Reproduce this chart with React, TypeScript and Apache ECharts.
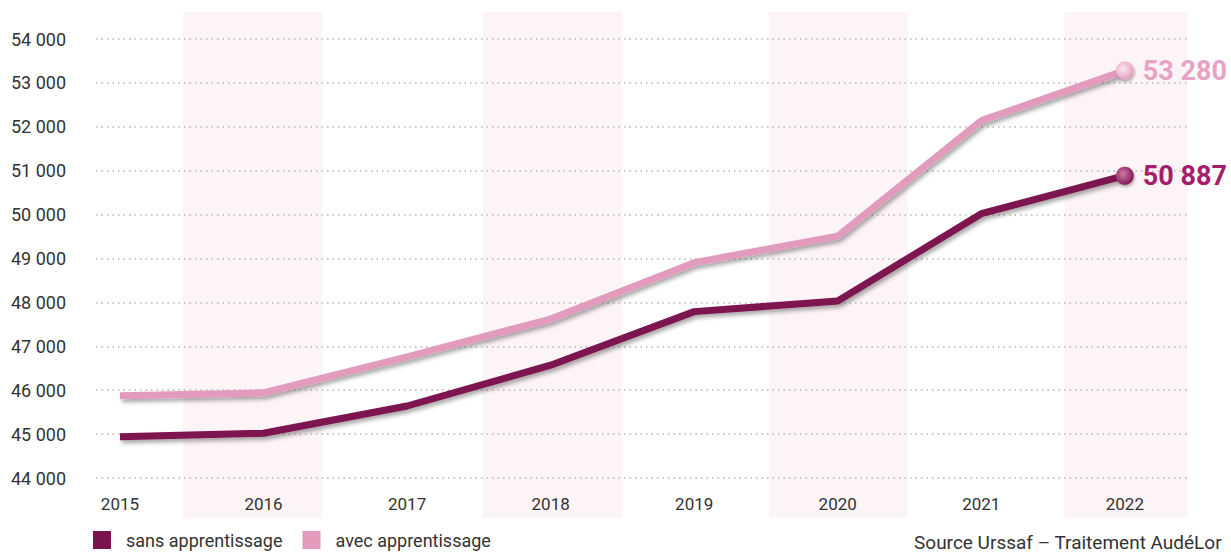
import React, { useEffect, useRef } from "react";
import * as echarts from "echarts";

const years = [2015, 2016, 2017, 2018, 2019, 2020, 2021, 2022];
const sansApprentissage = [44940, 45020, 45640, 46570, 47790, 48030, 50020, 50887];
const avecApprentissage = [45875, 45940, 46760, 47620, 48905, 49510, 52140, 53280];
const yTicks = [44000, 54000];
const bands: [number, number][] = [
  [2015.44, 2016.41],
  [2017.53, 2018.5],
  [2019.52, 2020.49],
  [2021.58, 2022.44],
];
const seriesNames = ["sans apprentissage", "avec apprentissage"];
const sourceText = "Source Urssaf \u2013 Traitement Aud\u00e9Lor";

const DARK = "#7d1250";
const PINK = "#e39bbd";
const FONT = "Roboto";

const fmt = (v: number) => {
  const s = String(Math.round(v));
  return s.replace(/\B(?=(\d{3})+(?!\d))/g, " ");
};

function lineSeries(name: string, vals: number[], color: string, labelColor: string, grad: [string, string]) {
  return {
    name,
    type: "line",
    symbol: "none",
    showSymbol: true,
    z: 3,
    lineStyle: {
      color,
      width: 7,
      shadowColor: "rgba(0,0,0,0.35)",
      shadowBlur: 4,
      shadowOffsetX: 2,
      shadowOffsetY: 3,
    },
    itemStyle: { color },
    data: vals.map((v, i) => {
      const pt: any = { value: [years[i], v] };
      if (i === vals.length - 1) {
        pt.symbol = "circle";
        pt.symbolSize = 18;
        pt.itemStyle = {
          color: new echarts.graphic.RadialGradient(0.4, 0.4, 0.65, [
            { offset: 0, color: grad[0] },
            { offset: 1, color: grad[1] },
          ]),
          shadowColor: "rgba(0,0,0,0.3)",
          shadowBlur: 3,
          shadowOffsetX: 1,
          shadowOffsetY: 2,
        };
        pt.label = {
          show: true,
          position: "right",
          distance: 9,
          formatter: () => fmt(v),
          fontFamily: FONT,
          fontWeight: "bold",
          fontSize: 27,
          color: labelColor,
        };
      }
      return pt;
    }),
  };
}

export default function App() {
  const ref = useRef<HTMLDivElement>(null);
  useEffect(() => {
    document.body.style.margin = "0";
    const chart = echarts.init(ref.current!, undefined, { renderer: "svg" });
    const yMin = yTicks[0];
    const yMax = yTicks[1];
    chart.setOption({
      animation: false,
      backgroundColor: "#ffffff",
      grid: { left: 96, right: 43, top: 39, bottom: 79, containLabel: false },
      xAxis: {
        type: "value",
        min: 2014.833,
        max: 2022.44,
        axisLine: { show: false },
        axisTick: { show: false },
        splitLine: { show: false },
        axisLabel: {
          customValues: years,
          formatter: (v: number) => String(Math.round(v)),
          fontFamily: FONT,
          fontSize: 17,
          color: "#333",
          margin: 17,
        },
      },
      yAxis: {
        type: "value",
        min: yMin,
        max: yMax,
        interval: 1000,
        axisLine: { show: false },
        axisTick: { show: false },
        axisLabel: {
          formatter: (v: number) => fmt(v),
          fontFamily: FONT,
          fontSize: 18,
          color: "#333",
          margin: 30,
        },
        splitLine: {
          lineStyle: { color: "#b5b5b5", width: 1.5, type: [1.5, 4] },
        },
      },
      legend: {
        left: 93,
        top: 530,
        padding: 0,
        itemWidth: 18,
        itemHeight: 18,
        itemGap: 20,
        icon: "rect",
        data: seriesNames,
        textStyle: {
          fontFamily: FONT,
          fontSize: 18,
          lineHeight: 20,
          color: "#333",
          padding: [0, 0, 0, 10],
        },
      },
      series: [
        lineSeries(seriesNames[1], avecApprentissage, PINK, "#e8a2c4", ["#fbe6f0", "#e39bbd"]),
        lineSeries(seriesNames[0], sansApprentissage, DARK, "#a51d6b", ["#d27aa8", "#7d1250"]),
      ],
    });
    const topPx = 12;
    const botPx = 518;
    const rects = bands.map(([a, b]) => {
      const x0 = chart.convertToPixel({ xAxisIndex: 0 }, a) as number;
      const x1 = chart.convertToPixel({ xAxisIndex: 0 }, b) as number;
      return {
        type: "rect",
        z: -10,
        silent: true,
        shape: { x: x0, y: topPx, width: x1 - x0, height: botPx - topPx },
        style: { fill: "#fcf4f7" },
      };
    });
    chart.setOption({
      graphic: [
        ...rects,
        {
          type: "text",
          right: 9,
          top: 533,
          style: {
            text: sourceText,
            fontFamily: FONT,
            fontSize: 19,
            fill: "#333",
          },
        },
      ],
    });
    return () => chart.dispose();
  }, []);
  return <div ref={ref} style={{ width: 1231, height: 557 }} />;
}
